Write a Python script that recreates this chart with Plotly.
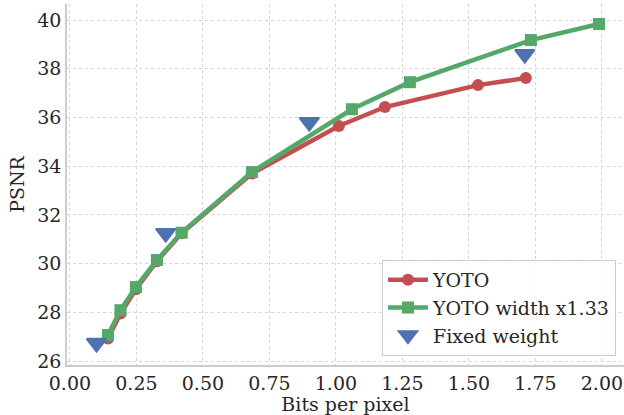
import plotly.graph_objects as go

# Data
yoto_bpp = [0.143, 0.19, 0.248, 0.327, 0.42, 0.684, 1.011, 1.184, 1.534, 1.714]
yoto_psnr = [26.93, 27.95, 28.95, 30.10, 31.25, 33.70, 35.65, 36.43, 37.33, 37.62]

wide_bpp = [0.143, 0.19, 0.248, 0.327, 0.42, 0.684, 1.06, 1.278, 1.733, 1.989]
wide_psnr = [27.07, 28.09, 29.04, 30.15, 31.27, 33.76, 36.34, 37.45, 39.18, 39.84]

fixed_bpp = [0.10, 0.36, 0.90, 1.71]
fixed_psnr = [26.74, 31.25, 35.81, 38.60]

x_ticks = [0, 0.25, 0.5, 0.75, 1.0, 1.25, 1.5, 1.75, 2.0]
y_ticks = [26, 28, 30, 32, 34, 36, 38, 40]

RED = "#C44E52"
GREEN = "#55A868"
BLUE = "#4C72B0"
FONT = "DejaVu Serif"
TXT = "#262626"
FS = 19

fig = go.Figure()
fig.add_trace(go.Scatter(
    x=yoto_bpp, y=yoto_psnr, mode="lines+markers", name="YOTO",
    line=dict(color=RED, width=4.5),
    marker=dict(symbol="circle", size=12, color=RED),
))
fig.add_trace(go.Scatter(
    x=wide_bpp, y=wide_psnr, mode="lines+markers", name="YOTO width x1.33",
    line=dict(color=GREEN, width=4.5),
    marker=dict(symbol="square", size=12, color=GREEN),
))
fig.add_trace(go.Scatter(
    x=fixed_bpp, y=fixed_psnr, mode="markers", name="Fixed weight",
    marker=dict(symbol="triangle-down", size=17, color=BLUE,
                line=dict(color=BLUE, width=2)),
))

axis_common = dict(
    showgrid=True, gridcolor="#d5d5d5", griddash="dot", gridwidth=1,
    showline=True, linecolor="#cccccc", linewidth=1.5,
    zeroline=False, ticks="", tickfont=dict(family=FONT, size=FS, color=TXT),
)

fig.update_xaxes(
    range=[-0.011, 2.083], tickvals=x_ticks, tickformat=".2f",
    title=dict(text="Bits per pixel", font=dict(family=FONT, size=FS, color=TXT), standoff=2),
    **axis_common,
)
fig.update_yaxes(
    range=[25.84, 40.66], tickvals=y_ticks,
    title=dict(text="PSNR", font=dict(family=FONT, size=FS, color=TXT), standoff=8),
    **axis_common,
)

fig.update_layout(
    width=624, height=415,
    margin=dict(l=67, r=0, t=4, b=50),
    paper_bgcolor="white", plot_bgcolor="white",
    font=dict(family=FONT, size=FS, color=TXT),
    showlegend=True,
    legend=dict(
        x=0.9856, y=0.025, xanchor="right", yanchor="bottom",
        bgcolor="rgba(255,255,255,0.85)", bordercolor="#cccccc", borderwidth=1,
        font=dict(family=FONT, size=FS, color=TXT),
        itemwidth=40,
    ),
)

fig.write_html("out.html")
